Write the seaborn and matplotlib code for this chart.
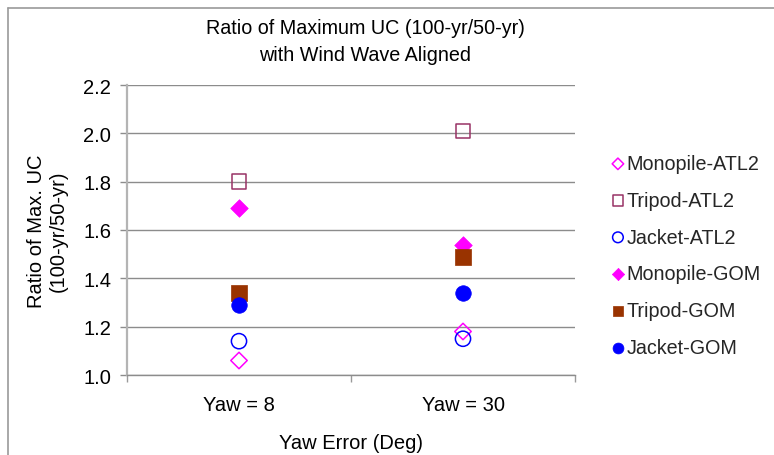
import matplotlib
matplotlib.use("Agg")
import matplotlib.pyplot as plt
from matplotlib.lines import Line2D
from matplotlib.ticker import FixedLocator, MultipleLocator
import pandas as pd
import seaborn as sns

# Yaw error cases and the 100-yr/50-yr ratio of maximum unity check per structure
yaw_labels = ["Yaw = 8", "Yaw = 30"]
series_names = ["Monopile-ATL2", "Tripod-ATL2", "Jacket-ATL2",
                "Monopile-GOM", "Tripod-GOM", "Jacket-GOM"]
monopile_atl2 = [1.06, 1.18]
tripod_atl2 = [1.80, 2.01]
jacket_atl2 = [1.14, 1.15]
monopile_gom = [1.69, 1.54]
tripod_gom = [1.34, 1.49]
jacket_gom = [1.29, 1.34]

series_values = [monopile_atl2, tripod_atl2, jacket_atl2,
                 monopile_gom, tripod_gom, jacket_gom]

# marker, colour, filled, marker area
styles = {
    "Monopile-ATL2": ("D", "#FF00FF", False, 70),
    "Tripod-ATL2": ("s", "#993366", False, 110),
    "Jacket-ATL2": ("o", "#0000FF", False, 120),
    "Monopile-GOM": ("D", "#FF00FF", True, 80),
    "Tripod-GOM": ("s", "#993300", True, 120),
    "Jacket-GOM": ("o", "#0000FF", True, 125),
}

df = pd.DataFrame(
    [(name, yaw, val)
     for name, vals in zip(series_names, series_values)
     for yaw, val in zip(yaw_labels, vals)],
    columns=["series", "yaw", "ratio"],
)

sns.set_theme(style="white")
plt.rcParams["font.family"] = ["Liberation Sans", "DejaVu Sans"]

W, H = 774, 456
fig = plt.figure(figsize=(W / 100, H / 100), dpi=100)
ax = fig.add_axes([127 / W, 1 - 376 / H, 448 / W, 290 / H])

for name in series_names:
    marker, color, filled, size = styles[name]
    sub = df[df["series"] == name]
    if filled:
        sns.scatterplot(data=sub, x="yaw", y="ratio", ax=ax, marker=marker,
                        s=size, color=color, edgecolor=color, linewidth=0.5,
                        label=name, zorder=3)
    else:
        sns.scatterplot(data=sub, x="yaw", y="ratio", ax=ax, marker=marker,
                        s=size, color=color, facecolor="none", edgecolor=color,
                        linewidth=1.1, label=name, zorder=3)

ax.set_xlim(-0.5, 1.5)
ax.set_ylim(1.0, 2.2)
ax.yaxis.set_major_locator(MultipleLocator(0.2))
ax.yaxis.set_major_formatter(matplotlib.ticker.FormatStrFormatter("%.1f"))
ax.xaxis.set_minor_locator(FixedLocator([-0.5, 0.5, 1.5]))

ax.grid(axis="y", color="#8c8c8c", linewidth=1.0)
ax.set_axisbelow(True)
for side in ("top", "right"):
    ax.spines[side].set_visible(False)
ax.spines["left"].set_color("#b4b4b4")
ax.spines["left"].set_linewidth(1.6)
ax.spines["bottom"].set_color("#8c8c8c")
ax.spines["bottom"].set_linewidth(1.0)

ax.tick_params(axis="y", which="major", direction="out", length=5, width=1.0,
               color="#8c8c8c", left=True, pad=6.5, labelsize=14.5,
               labelcolor="black")
ax.tick_params(axis="x", which="major", length=0, pad=14.5, labelsize=14.5,
               labelcolor="black")
ax.tick_params(axis="x", which="minor", direction="out", length=5, width=1.0,
               color="#9a9a9a", bottom=True)

ax.set_xlabel("Yaw Error (Deg)", fontsize=14.5, color="black")
ax.xaxis.set_label_coords(0.5, -0.2)
ax.set_ylabel("Ratio of Max. UC\n(100-yr/50-yr)", fontsize=14.5, color="black")
ax.yaxis.set_label_coords(-0.132, 0.5)

fig.text(365 / W, 1 - 34 / H, "Ratio of Maximum UC (100-yr/50-yr)",
         ha="center", va="baseline", fontsize=14.2, color="black")
fig.text(365 / W, 1 - 61 / H, "with Wind Wave Aligned",
         ha="center", va="baseline", fontsize=14.2, color="black")

leg = ax.legend(loc="upper left", bbox_to_anchor=(612 / W, 1 - 155 / H),
                bbox_transform=fig.transFigure, frameon=False, fontsize=14.2,
                markerscale=0.7, handlelength=0.6, handletextpad=0.15,
                labelspacing=0.9, borderpad=0, borderaxespad=0)

# outer chart border
border = "#9a9a9a"
fig.add_artist(Line2D([8 / W, 8 / W], [0, 1 - 9 / H], transform=fig.transFigure,
                      color=border, linewidth=1.2))
fig.add_artist(Line2D([8 / W, 1], [1 - 9 / H, 1 - 9 / H], transform=fig.transFigure,
                      color=border, linewidth=1.2))

fig.savefig("out.png", dpi=100)
